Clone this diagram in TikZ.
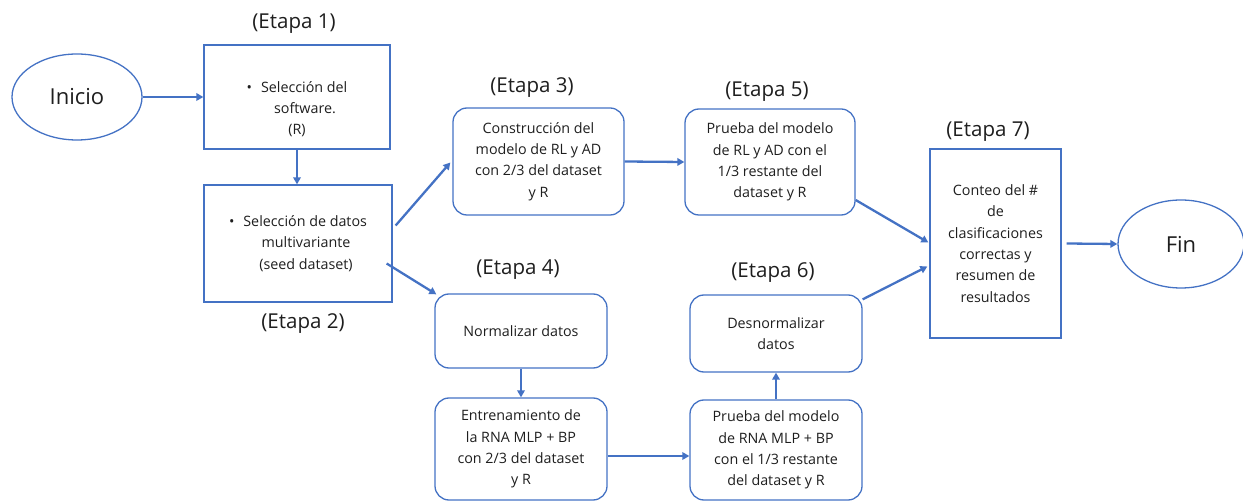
\documentclass[tikz,border=0pt]{standalone}
\usepackage{fontspec}
\setmainfont{Open Sans}
\usetikzlibrary{arrows.meta,shapes.geometric,calc}
\definecolor{bl}{HTML}{4472C4}
\definecolor{tx}{HTML}{1E1E1E}
\begin{document}
\begin{tikzpicture}[x=1pt,y=-1pt,
  box/.style={draw=bl,line width=1.3pt,inner sep=0pt,align=center,text=tx,
    font=\fontsize{14.3}{21.3}\selectfont},
  rbox/.style={box,rounded corners=14pt},
  oval/.style={ellipse,draw=bl,line width=1.3pt,inner sep=0pt,text=tx,
    font=\fontsize{22}{24}\selectfont},
  lbl/.style={text=tx,font=\fontsize{20.5}{22}\selectfont,inner sep=0pt},
  txt/.style={text=tx,align=center,font=\fontsize{14.3}{21.3}\selectfont,inner sep=0pt},
  arr/.style={draw=bl,line width=2.3pt,-{Triangle[length=7pt,width=7.5pt]}},
]
\useasboundingbox (0,0) rectangle (1243,502);

% nodes
\node[oval,minimum width=130pt,minimum height=86pt] (ini) at (77,97) {Inicio};
\node[box,minimum width=186pt,minimum height=104pt] (b1) at (297,97) {};
\node[txt] (b1t) at (297,109) {\textbullet\hspace{9pt}Selección del\\\hspace{16pt}software.\\(R)};
\node[box,minimum width=188pt,minimum height=117pt] (b2) at (298,243.5)
  {\textbullet\hspace{9pt}Selección de datos\\\hspace{16pt}multivariante\\\hspace{16pt}(seed dataset)};
\node[rbox,minimum width=171pt,minimum height=107pt] (b3) at (538.5,161.5)
  {Construcción del\\modelo de RL y AD\\con 2/3 del dataset\\y R};
\node[rbox,minimum width=170pt,minimum height=106pt] (b5) at (770,162)
  {Prueba del modelo\\de RL y AD con el\\1/3 restante del\\dataset y R};
\node[rbox,minimum width=172pt,minimum height=74pt] (b4) at (521,331) {Normalizar datos};
\node[rbox,minimum width=172pt,minimum height=102pt] (b4b) at (521,449)
  {Entrenamiento de\\la RNA MLP + BP\\con 2/3 del dataset\\y R};
\node[rbox,minimum width=172pt,minimum height=100pt] (b6b) at (776,450)
  {Prueba del modelo\\de RNA MLP + BP\\con el 1/3 restante\\del dataset y R};
\node[rbox,minimum width=172pt,minimum height=77pt] (b6) at (776,333.5)
  {Desnormalizar\\datos};
\node[box,minimum width=131pt,minimum height=189pt] (b7) at (995.5,243.5)
  {Conteo del \#\\de\\clasificaciones\\correctas y\\resumen de\\resultados};
\node[oval,minimum width=126pt,minimum height=88pt] (fin) at (1181,244) {Fin};

% labels
\node[lbl] (e1) at (294,24) {(Etapa 1)};
\node[lbl] (e2) at (303,324) {(Etapa 2)};
\node[lbl] (e3) at (532,88) {(Etapa 3)};
\node[lbl] (e4) at (518,270) {(Etapa 4)};
\node[lbl] (e5) at (767,92) {(Etapa 5)};
\node[lbl] (e6) at (773,273) {(Etapa 6)};
\node[lbl] (e7) at (988,132) {(Etapa 7)};

% connectors
\draw[arr] (ini.east) -- (b1.west);
\draw[arr] (b1.south) -- (b1.south |- b2.north);
\draw[arr] ($(b2.east)+(3,-18)$) -- ($(b3.west)+(-2,1)$);
\draw[arr] ($(b2.east)+(-6,20)$) -- ($(b4.north west)+(2,1)$);
\draw[arr] (b3.east) -- (b5.west);
\draw[arr] (b4.south) -- (b4.south |- b4b.north);
\draw[arr] (b4b.east |- 0,456) -- (b6b.west |- 0,456);
\draw[arr] (b6b.north) -- (b6b.north |- b6.south);
\draw[arr] ($(b5.east)+(0,38)$) -- ($(b7.west)+(-1,-1)$);
\draw[arr] ($(b6.north east)+(0,5)$) -- ($(b7.west)+(-2,23)$);
\draw[arr] ($(b7.east)+(5,0)$) -- (fin.west);
\end{tikzpicture}
\end{document}
